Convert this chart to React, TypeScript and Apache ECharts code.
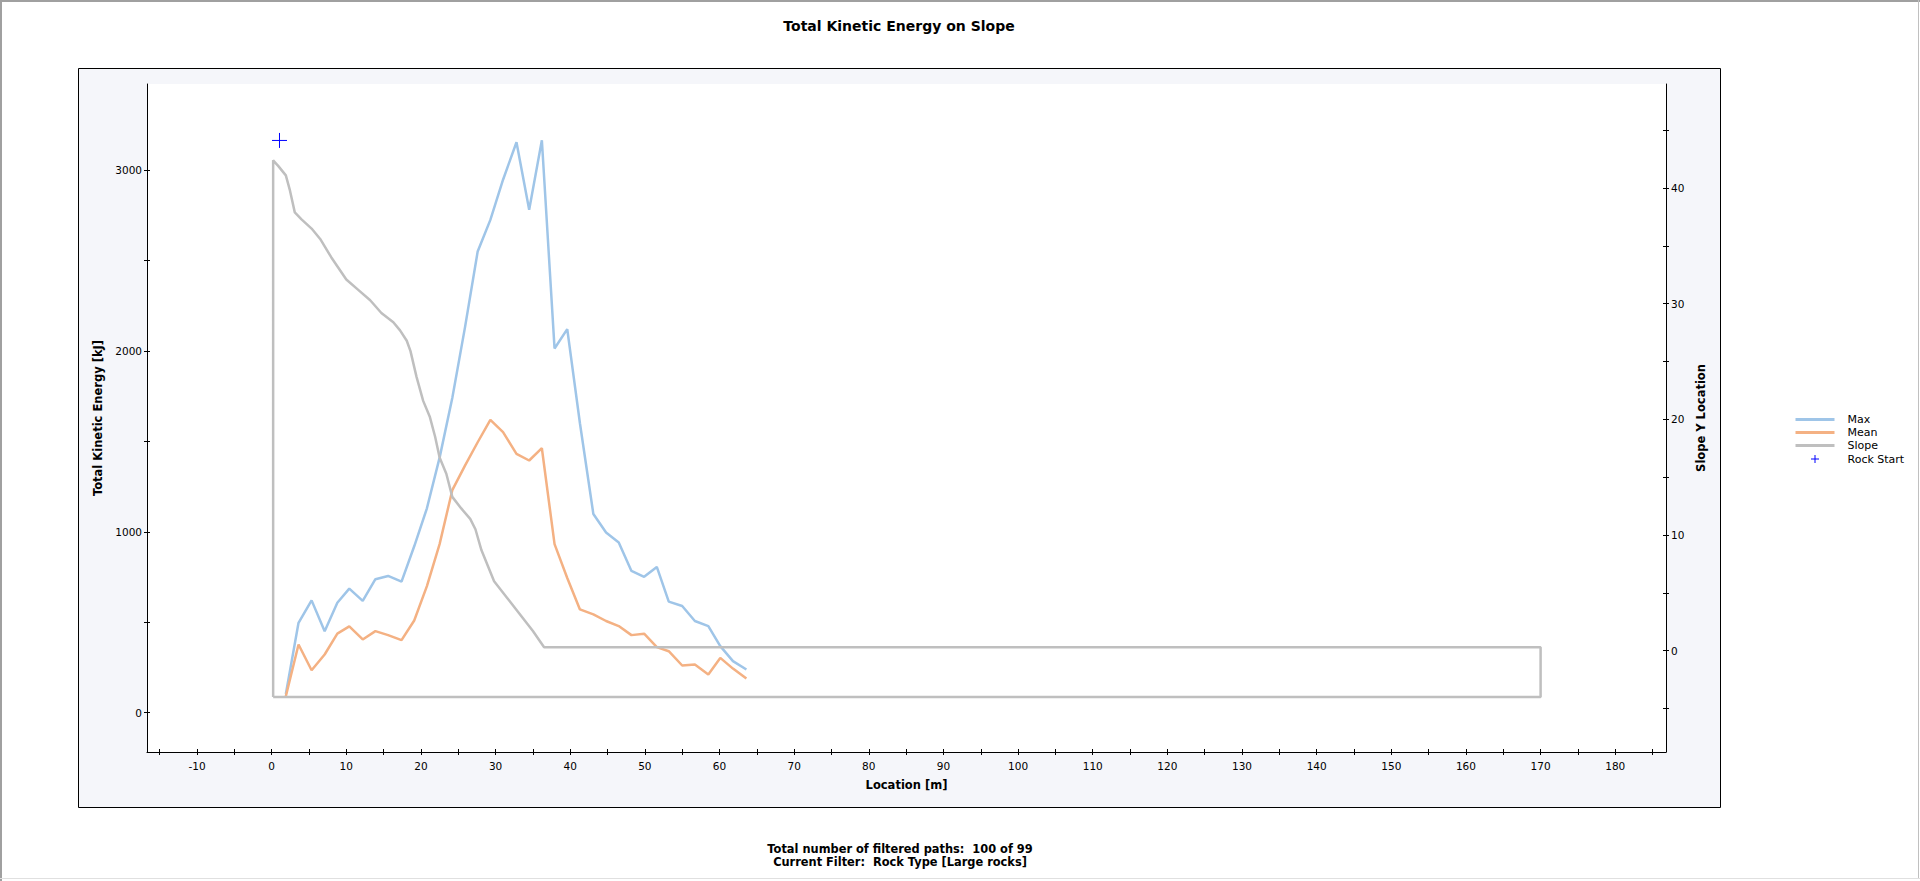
import React, { useEffect, useRef } from "react";
import * as echarts from "echarts";

// ---- data ----
const locations = [1.9, 3.6, 5.35, 7.1, 8.8, 10.4, 12.2, 13.9, 15.6, 17.4, 19.1, 20.8, 22.5, 24.2, 25.9, 27.6, 29.3, 31.0, 32.8, 34.5, 36.2, 37.9, 39.6, 41.3, 43.1, 44.8, 46.5, 48.2, 49.9, 51.6, 53.2, 55.0, 56.7, 58.5, 60.1, 61.8, 63.6];
const maxEnergy = [104, 497, 621, 451, 608, 686, 618, 738, 756, 725, 920, 1130, 1410, 1740, 2130, 2549, 2724, 2946, 3153, 2780, 3164, 2013, 2120, 1600, 1098, 996, 941, 784, 751, 806, 614, 590, 507, 479, 368, 285, 239];
const meanEnergy = [91, 377, 235, 322, 437, 477, 405, 451, 429, 401, 510, 700, 932, 1230, 1366, 1495, 1619, 1551, 1431, 1394, 1462, 932, 745, 571, 544, 507, 479, 429, 437, 363, 340, 261, 266, 211, 303, 244, 189];
const slopeX = [0.2, 0.2, 0.9, 1.9, 2.45, 3.1, 4.0, 5.35, 6.5, 8.0, 10.0, 11.6, 13.2, 14.7, 16.3, 17.2, 18.1, 18.6, 19.4, 20.3, 21.2, 21.9, 22.5, 23.4, 24.2, 25.4, 26.6, 27.3, 28.1, 29.8, 31.5, 33.2, 35.0, 36.5, 170, 170, 0.2];
const slopeY = [-4, 42.4, 41.9, 41.1, 39.8, 37.9, 37.3, 36.5, 35.6, 34.0, 32.1, 31.2, 30.3, 29.2, 28.4, 27.7, 26.8, 25.9, 23.7, 21.6, 20.2, 18.5, 16.7, 15.3, 13.3, 12.3, 11.4, 10.5, 8.7, 6.0, 4.6, 3.2, 1.7, 0.3, 0.3, -4, -4];
const rockStart = [[1.05, 44.12]];

const xTicks = [-15, -10, -5, 0, 5, 10, 15, 20, 25, 30, 35, 40, 45, 50, 55, 60, 65, 70, 75, 80, 85, 90, 95, 100, 105, 110, 115, 120, 125, 130, 135, 140, 145, 150, 155, 160, 165, 170, 175, 180, 185];
const xLabels = [-10, 0, 10, 20, 30, 40, 50, 60, 70, 80, 90, 100, 110, 120, 130, 140, 150, 160, 170, 180];
const energyTicks = [0, 500, 1000, 1500, 2000, 2500, 3000];
const energyLabels = [0, 1000, 2000, 3000];
const slopeTicks = [-5, 0, 5, 10, 15, 20, 25, 30, 35, 40, 45];
const slopeLabels = [0, 10, 20, 30, 40];

const FONT = "DejaVu Sans";
const X_MIN = -16.7, X_MAX = 186.8;
const E_MIN = -217, E_MAX = 3475;
const S_MIN = -8.76, S_MAX = 49.0;

const tickStyle = { color: "#000", width: 1 };
const plain = (v: number) => String(v);
const LINE_ICON = "path://M0 0M39 13M0 5H39V8H0Z";

function App() {
  const ref = useRef<HTMLDivElement>(null);
  useEffect(() => {
    if (!ref.current) return;
    const chart = echarts.init(ref.current, null, { renderer: "svg" });
    const pair = (xs: number[], ys: number[]) => xs.map((x, i) => [x, ys[i]]);
    const option: any = {
      animation: false,
      textStyle: { fontFamily: FONT },
      grid: { left: 147, right: 254, top: 84, bottom: 129, show: true, backgroundColor: "#ffffff", borderWidth: 0 },
      graphic: [
        { type: "rect", z: -20, shape: { x: 0, y: 0, width: 1920, height: 881 }, style: { fill: "#ffffff" } },
        { type: "line", z: -5, shape: { x1: 0, y1: 1, x2: 1920, y2: 1 }, style: { stroke: "#a0a0a0", lineWidth: 2 } },
        { type: "line", z: -5, shape: { x1: 1, y1: 0, x2: 1, y2: 881 }, style: { stroke: "#a0a0a0", lineWidth: 2 } },
        { type: "line", z: -5, shape: { x1: 1918.5, y1: 0, x2: 1918.5, y2: 879 }, style: { stroke: "#c0c0c0", lineWidth: 1 } },
        { type: "line", z: -5, shape: { x1: 0, y1: 878.5, x2: 1920, y2: 878.5 }, style: { stroke: "#e0e0e0", lineWidth: 1 } },
        { type: "rect", z: -10, shape: { x: 78.5, y: 68.5, width: 1642, height: 739 }, style: { fill: "#f5f6fa", stroke: "#000", lineWidth: 1 } },
        { type: "text", x: 899, y: 26, style: { text: "Total Kinetic Energy on Slope", fontFamily: FONT, fontWeight: "bold", fontSize: 14, fill: "#000", align: "center", verticalAlign: "middle" } },
        { type: "text", x: 900, y: 849, style: { text: "Total number of filtered paths:  100 of 99", fontFamily: FONT, fontWeight: "bold", fontSize: 11.4, fill: "#000", align: "center", verticalAlign: "middle" } },
        { type: "text", x: 900, y: 862, style: { text: "Current Filter:  Rock Type [Large rocks]", fontFamily: FONT, fontWeight: "bold", fontSize: 11.4, fill: "#000", align: "center", verticalAlign: "middle" } },
      ],
      legend: {
        orient: "vertical",
        left: 1795,
        top: 413,
        padding: 0,
        itemWidth: 39,
        itemHeight: 13,
        itemGap: 0,
        textStyle: { fontFamily: FONT, fontSize: 11, color: "#000", padding: [0, 0, 0, 8] },
        data: [
          { name: "Max", icon: LINE_ICON },
          { name: "Mean", icon: LINE_ICON },
          { name: "Slope", icon: LINE_ICON },
          {
            name: "Rock Start",
            icon: "path://M0 0M39 13M19.5 2.5V10.5M15.5 6.5H23.5",
            itemStyle: { color: "rgba(0,0,0,0)", borderColor: "#0000ff", borderWidth: 1 },
          },
        ],
      },
      xAxis: [
        {
          type: "value", position: "bottom", min: X_MIN, max: X_MAX,
          axisLine: { show: true, onZero: false, lineStyle: { color: "#000", width: 1 } },
          axisTick: { show: true, length: 3, inside: false, customValues: xTicks, lineStyle: tickStyle },
          axisLabel: { customValues: xLabels, formatter: plain, color: "#000", fontSize: 10.5, fontFamily: FONT, margin: 8 },
          splitLine: { show: false },
          name: "Location [m]", nameLocation: "middle", nameGap: 27,
          nameTextStyle: { fontFamily: FONT, fontWeight: "bold", fontSize: 11.5, color: "#000" },
        },
        {
          type: "value", position: "bottom", min: X_MIN, max: X_MAX,
          axisLine: { show: false, onZero: false },
          axisTick: { show: true, length: 3, inside: true, customValues: xTicks, lineStyle: tickStyle },
          axisLabel: { show: false },
          splitLine: { show: false },
        },
      ],
      yAxis: [
        {
          type: "value", position: "left", min: E_MIN, max: E_MAX,
          axisLine: { show: true, onZero: false, lineStyle: { color: "#000", width: 1 } },
          axisTick: { show: true, length: 3, inside: false, customValues: energyTicks, lineStyle: tickStyle },
          axisLabel: { customValues: energyLabels, formatter: plain, color: "#000", fontSize: 10.5, fontFamily: FONT, margin: 5 },
          splitLine: { show: false },
          name: "Total Kinetic Energy [kJ]", nameLocation: "middle", nameGap: 32, nameRotate: 90,
          nameTextStyle: { fontFamily: FONT, fontWeight: "bold", fontSize: 11.5, color: "#000" },
        },
        {
          type: "value", position: "right", min: S_MIN, max: S_MAX,
          axisLine: { show: true, onZero: false, lineStyle: { color: "#000", width: 1 } },
          axisTick: { show: true, length: 3, inside: false, customValues: slopeTicks, lineStyle: tickStyle },
          axisLabel: { customValues: slopeLabels, formatter: plain, color: "#000", fontSize: 10.5, fontFamily: FONT, margin: 5 },
          splitLine: { show: false },
          name: "Slope Y Location", nameLocation: "middle", nameGap: 20, nameRotate: 90,
          nameTextStyle: { fontFamily: FONT, fontWeight: "bold", fontSize: 11.5, color: "#000" },
        },
        {
          type: "value", position: "left", min: E_MIN, max: E_MAX,
          axisLine: { show: false, onZero: false },
          axisTick: { show: true, length: 3, inside: true, customValues: energyTicks, lineStyle: tickStyle },
          axisLabel: { show: false },
          splitLine: { show: false },
        },
        {
          type: "value", position: "right", min: S_MIN, max: S_MAX,
          axisLine: { show: false, onZero: false },
          axisTick: { show: true, length: 3, inside: true, customValues: slopeTicks, lineStyle: tickStyle },
          axisLabel: { show: false },
          splitLine: { show: false },
        },
      ],
      series: [
        {
          name: "Max", type: "line", xAxisIndex: 0, yAxisIndex: 0, data: pair(locations, maxEnergy),
          showSymbol: false, symbol: "none", color: "#9fc5e8",
          lineStyle: { color: "#9fc5e8", width: 2.5 },
        },
        {
          name: "Mean", type: "line", xAxisIndex: 0, yAxisIndex: 0, data: pair(locations, meanEnergy),
          showSymbol: false, symbol: "none", color: "#f4b183",
          lineStyle: { color: "#f4b183", width: 2.5 },
        },
        {
          name: "Slope", type: "line", xAxisIndex: 0, yAxisIndex: 1, data: pair(slopeX, slopeY),
          showSymbol: false, symbol: "none", color: "#bfbfbf",
          lineStyle: { color: "#bfbfbf", width: 2.5 },
        },
        {
          name: "Rock Start", type: "scatter", xAxisIndex: 0, yAxisIndex: 1, data: rockStart,
          symbol: "path://M7 0V14M0 7H14", symbolSize: 15,
          itemStyle: { color: "rgba(0,0,0,0)", borderColor: "#0000ff", borderWidth: 1, opacity: 1 },
        },
      ],
    };
    chart.setOption(option);
    return () => chart.dispose();
  }, []);
  return <div ref={ref} style={{ position: "absolute", left: 0, top: 0, width: 1920, height: 881 }} />;
}

export default App;
